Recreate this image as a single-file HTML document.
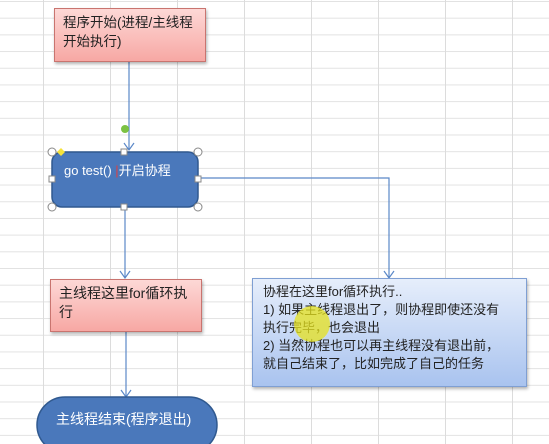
<!DOCTYPE html>
<html><head><meta charset="utf-8"><style>
body{margin:0;width:549px;height:444px;overflow:hidden;background:#fff;font-family:"Liberation Sans","Noto Sans CJK SC",sans-serif;}
.grid{position:absolute;left:0;top:0;width:549px;height:444px;
background-image:linear-gradient(to right,#dcdcdc 1px,transparent 1px),linear-gradient(to bottom,#e2e2e2 1px,transparent 1px);
background-size:67px 16.7px;background-position:43px 1px;}
.box{position:absolute;box-sizing:border-box;font-size:14px;line-height:19px;white-space:nowrap;}
.pink{background:linear-gradient(#fdd8d6,#f7a8a4);border:1px solid #c9746f;box-shadow:1px 2px 3px rgba(0,0,0,.3);color:#222;padding:4px 8px;}
</style></head><body>
<div class="grid"></div>
<svg style="position:absolute;left:0;top:0" width="549" height="444">
<g stroke="#5b88c8" stroke-width="1.2" fill="none">
<line x1="129" y1="62" x2="129" y2="150"/><path d="M124 143 L129 150 L134 143"/>
<line x1="125" y1="207" x2="125" y2="278"/><path d="M120 271 L125 278 L130 271"/>
<line x1="126" y1="332" x2="126" y2="397"/><path d="M121 390 L126 397 L131 390"/>
<polyline points="198,178 389,178 389,278"/><path d="M384 271 L389 278 L394 271"/>
</g>
<rect x="52" y="152" width="146" height="55" rx="10" fill="#4a78bb" stroke="#30598f" stroke-width="1.5"/>
<g fill="#fff" stroke="#888" stroke-width="1">
<circle cx="52" cy="152" r="4"/><circle cx="198" cy="152" r="4"/><circle cx="52" cy="207" r="4"/><circle cx="198" cy="207" r="4"/>
<rect x="121" y="149" width="6" height="6"/><rect x="121" y="204" width="6" height="6"/><rect x="49" y="176" width="6" height="6"/><rect x="195" y="176" width="6" height="6"/>
</g>
<circle cx="125" cy="129" r="4" fill="#7cc242"/>
<path d="M61 148 L65 152 L61 156 L57 152Z" fill="#f5e23a"/>
<text x="64" y="175" fill="#fff" font-size="13" font-family="Liberation Sans,Noto Sans CJK SC,sans-serif">go test() <tspan fill="#e04040">|</tspan>开启协程</text>
<rect x="37" y="397" width="180" height="56" rx="28" fill="#4a78bb" stroke="#30598f" stroke-width="1.5"/>
<text x="56" y="424" fill="#fff" font-size="14" font-family="Liberation Sans,Noto Sans CJK SC,sans-serif">主线程结束(程序退出)</text>
</svg>
<div class="box pink" style="left:54px;top:8px;width:152px;height:54px;font-size:13.5px;">程序开始(进程/主线程<br>开始执行)</div>
<div class="box pink" style="left:50px;top:279px;width:152px;height:53px;">主线程这里for循环执<br>行</div>
<div class="box" style="left:252px;top:278px;width:275px;height:109px;background:linear-gradient(#e6eefb,#a9c3ef);border:1px solid #7f9fd3;box-shadow:1px 2px 3px rgba(0,0,0,.3);padding:4px 10px;font-size:13px;line-height:18px;color:#222;">协程在这里for循环执行..<br>1) 如果主线程退出了，则协程即使还没有<br>执行完毕，也会退出<br>2) 当然协程也可以再主线程没有退出前，<br>就自己结束了，比如完成了自己的任务</div>
<div style="position:absolute;left:294px;top:306px;width:36px;height:36px;border-radius:50%;background:rgba(230,225,30,.75);"></div>
</body></html>
